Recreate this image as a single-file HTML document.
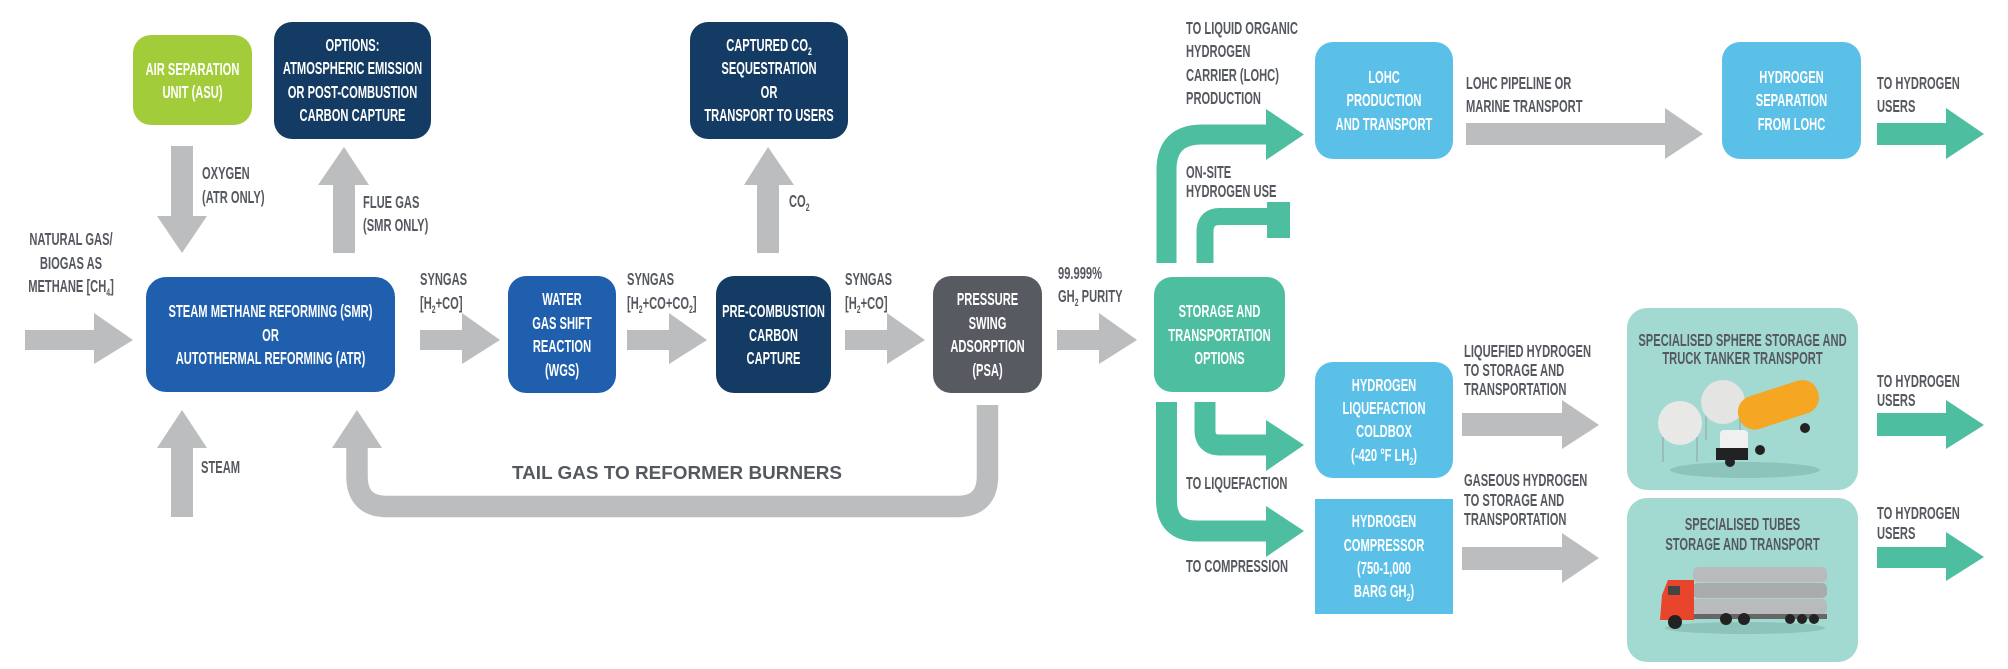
<!DOCTYPE html>
<html><head><meta charset="utf-8"><style>
html,body{margin:0;padding:0;background:#fff;}
svg{display:block;}
text{font-family:"Liberation Sans",sans-serif;font-weight:bold;font-size:18px;}
.w{fill:#fff;text-anchor:middle;}
.g{fill:#55595f;}
.gm{fill:#55595f;text-anchor:middle;}
</style></head><body>
<svg width="2008" height="669" viewBox="0 0 2008 669" xmlns="http://www.w3.org/2000/svg">
<g fill="#bbbdbf">
<polygon points="25,330 94,330 94,313 133,340 94,364 94,350 25,350"/>
<polygon points="420,330 462,330 462,313 500,340 462,364 462,350 420,350"/>
<polygon points="627,330 669,330 669,313 707,340 669,364 669,350 627,350"/>
<polygon points="845,330 887,330 887,313 925,340 887,364 887,350 845,350"/>
<polygon points="1057,330 1099,330 1099,313 1137,340 1099,364 1099,350 1057,350"/>
<polygon points="1466,123 1665,123 1665,108 1703,134 1665,159 1665,145 1466,145"/>
<polygon points="1462,413 1562,413 1562,400 1599,425 1562,449 1562,436 1462,436"/>
<polygon points="1462,547 1562,547 1562,533 1599,558 1562,583 1562,570 1462,570"/>
<polygon points="171,146 193,146 193,216 207,216 182,253 157,216 171,216"/>
<polygon points="333,253 355,253 355,185 369,185 344,147 318,185 333,185"/>
<polygon points="757,253 779,253 779,185 794,185 768,147 744,185 757,185"/>
<polygon points="171,517 193,517 193,448 207,448 182,410 157,448 171,448"/>
<path d="M987.5,405 V476 Q987.5,506.5 957,506.5 H387 Q357,506.5 357,476 V446" fill="none" stroke="#bbbdbf" stroke-width="21.5"/>
<polygon points="332,448 382,448 357,410"/>
</g>
<g fill="#4dbfa0">
<path d="M1166.5,263 V170 Q1166.5,134.5 1202,134.5 H1268" fill="none" stroke="#4dbfa0" stroke-width="20"/>
<polygon points="1266,109 1304,134.5 1266,160"/>
<path d="M1205,263 V232 Q1205,216.5 1220,216.5 H1270" fill="none" stroke="#4dbfa0" stroke-width="17"/>
<rect x="1267" y="202" width="23" height="36"/>
<path d="M1205,402 V430 Q1205,445 1220,445 H1268" fill="none" stroke="#4dbfa0" stroke-width="21"/>
<polygon points="1266,420 1304,445 1266,471"/>
<path d="M1166.5,402 V500 Q1166.5,531 1197,531 H1268" fill="none" stroke="#4dbfa0" stroke-width="21"/>
<polygon points="1266,506 1304,531 1266,557"/>
<polygon points="1877,123 1946,123 1946,108 1984,134 1946,159 1946,145 1877,145"/>
<polygon points="1877,413 1946,413 1946,400 1984,425 1946,449 1946,436 1877,436"/>
<polygon points="1877,547 1946,547 1946,532 1984,557 1946,581 1946,568 1877,568"/>
</g>
<rect x="133" y="35" width="119" height="90" rx="18" fill="#a3cc3b"/>
<rect x="274" y="22" width="157" height="117" rx="18" fill="#143b63"/>
<rect x="690" y="22" width="158" height="117" rx="18" fill="#143b63"/>
<rect x="146" y="277" width="249" height="115" rx="20" fill="#1f5fae"/>
<rect x="508" y="276" width="108" height="117" rx="18" fill="#1f5fae"/>
<rect x="716" y="276" width="115" height="117" rx="18" fill="#143b63"/>
<rect x="933" y="276" width="109" height="117" rx="18" fill="#575b61"/>
<rect x="1154" y="277" width="131" height="115" rx="18" fill="#4dbfa0"/>
<rect x="1315" y="42" width="138" height="117" rx="18" fill="#5bc0e8"/>
<rect x="1722" y="42" width="139" height="117" rx="18" fill="#5bc0e8"/>
<rect x="1315" y="362" width="138" height="116" rx="18" fill="#5bc0e8"/>
<rect x="1315" y="499" width="138" height="115" fill="#5bc0e8"/>
<rect x="1627" y="308" width="231" height="182" rx="20" fill="#a2d9d0"/>
<rect x="1627" y="498" width="231" height="164" rx="20" fill="#a2d9d0"/>

<g transform="translate(192.5,0) scale(.62,1)"><text class="w" x="0" y="75">AIR SEPARATION</text><text class="w" x="0" y="98">UNIT (ASU)</text></g>
<g transform="translate(352.5,0) scale(.62,1)"><text class="w" x="0" y="51">OPTIONS:</text><text class="w" x="0" y="74">ATMOSPHERIC EMISSION</text><text class="w" x="0" y="98">OR POST-COMBUSTION</text><text class="w" x="0" y="121">CARBON CAPTURE</text></g>
<g transform="translate(769,0) scale(.62,1)"><text class="w" x="0" y="51">CAPTURED CO<tspan font-size="11" dy="4">2</tspan></text><text class="w" x="0" y="74">SEQUESTRATION</text><text class="w" x="0" y="98">OR</text><text class="w" x="0" y="121">TRANSPORT TO USERS</text></g>
<g transform="translate(270.5,0) scale(.62,1)"><text class="w" x="0" y="317">STEAM METHANE REFORMING (SMR)</text><text class="w" x="0" y="341">OR</text><text class="w" x="0" y="364">AUTOTHERMAL REFORMING (ATR)</text></g>
<g transform="translate(562,0) scale(.62,1)"><text class="w" x="0" y="305">WATER</text><text class="w" x="0" y="329">GAS SHIFT</text><text class="w" x="0" y="352">REACTION</text><text class="w" x="0" y="376">(WGS)</text></g>
<g transform="translate(773.5,0) scale(.62,1)"><text class="w" x="0" y="317">PRE-COMBUSTION</text><text class="w" x="0" y="341">CARBON</text><text class="w" x="0" y="364">CAPTURE</text></g>
<g transform="translate(987.5,0) scale(.62,1)"><text class="w" x="0" y="305">PRESSURE</text><text class="w" x="0" y="329">SWING</text><text class="w" x="0" y="352">ADSORPTION</text><text class="w" x="0" y="376">(PSA)</text></g>
<g transform="translate(1219.5,0) scale(.62,1)"><text class="w" x="0" y="317">STORAGE AND</text><text class="w" x="0" y="341">TRANSPORTATION</text><text class="w" x="0" y="364">OPTIONS</text></g>
<g transform="translate(1384,0) scale(.62,1)"><text class="w" x="0" y="83">LOHC</text><text class="w" x="0" y="106">PRODUCTION</text><text class="w" x="0" y="130">AND TRANSPORT</text></g>
<g transform="translate(1791.5,0) scale(.62,1)"><text class="w" x="0" y="83">HYDROGEN</text><text class="w" x="0" y="106">SEPARATION</text><text class="w" x="0" y="130">FROM LOHC</text></g>
<g transform="translate(1384,0) scale(.62,1)"><text class="w" x="0" y="391">HYDROGEN</text><text class="w" x="0" y="414">LIQUEFACTION</text><text class="w" x="0" y="437">COLDBOX</text><text class="w" x="0" y="461">(-420 °F LH<tspan font-size="11" dy="4">2</tspan><tspan dy="-4">)</tspan></text></g>
<g transform="translate(1384,0) scale(.62,1)"><text class="w" x="0" y="527">HYDROGEN</text><text class="w" x="0" y="551">COMPRESSOR</text><text class="w" x="0" y="574">(750-1,000</text><text class="w" x="0" y="597">BARG GH<tspan font-size="11" dy="4">2</tspan><tspan dy="-4">)</tspan></text></g>

<g transform="translate(202,0) scale(.62,1)"><text class="g" x="0" y="179">OXYGEN</text><text class="g" x="0" y="203">(ATR ONLY)</text></g>
<g transform="translate(363,0) scale(.62,1)"><text class="g" x="0" y="208">FLUE GAS</text><text class="g" x="0" y="231">(SMR ONLY)</text></g>
<g transform="translate(71,0) scale(.62,1)"><text class="gm" x="0" y="245">NATURAL GAS/</text><text class="gm" x="0" y="269">BIOGAS AS</text><text class="gm" x="0" y="292">METHANE [CH<tspan font-size="11" dy="4">4</tspan><tspan dy="-4">]</tspan></text></g>
<g transform="translate(201,0) scale(.62,1)"><text class="g" x="0" y="473">STEAM</text></g>
<g transform="translate(420,0) scale(.62,1)"><text class="g" x="0" y="285">SYNGAS</text><text class="g" x="0" y="309">[H<tspan font-size="11" dy="4">2</tspan><tspan dy="-4">+CO]</tspan></text></g>
<g transform="translate(627,0) scale(.62,1)"><text class="g" x="0" y="285">SYNGAS</text><text class="g" x="0" y="309">[H<tspan font-size="11" dy="4">2</tspan><tspan dy="-4">+CO+CO</tspan><tspan font-size="11" dy="4">2</tspan><tspan dy="-4">]</tspan></text></g>
<g transform="translate(845,0) scale(.62,1)"><text class="g" x="0" y="285">SYNGAS</text><text class="g" x="0" y="309">[H<tspan font-size="11" dy="4">2</tspan><tspan dy="-4">+CO]</tspan></text></g>
<g transform="translate(789,0) scale(.62,1)"><text class="g" x="0" y="207">CO<tspan font-size="11" dy="4">2</tspan></text></g>
<g transform="translate(1058,0) scale(.62,1)"><text class="g" x="0" y="279">99.999%</text><text class="g" x="0" y="302">GH<tspan font-size="11" dy="4">2</tspan><tspan dy="-4"> PURITY</tspan></text></g>
<text x="512" y="479" fill="#55595f" font-size="35" textLength="330" lengthAdjust="spacingAndGlyphs">TAIL GAS TO REFORMER BURNERS</text>
<g transform="translate(1186,0) scale(.62,1)"><text class="g" x="0" y="34">TO LIQUID ORGANIC</text><text class="g" x="0" y="57">HYDROGEN</text><text class="g" x="0" y="81">CARRIER (LOHC)</text><text class="g" x="0" y="104">PRODUCTION</text></g>
<g transform="translate(1186,0) scale(.62,1)"><text class="g" x="0" y="178">ON-SITE</text><text class="g" x="0" y="197">HYDROGEN USE</text></g>
<g transform="translate(1186,0) scale(.62,1)"><text class="g" x="0" y="489">TO LIQUEFACTION</text><text class="g" x="0" y="572">TO COMPRESSION</text></g>
<g transform="translate(1466,0) scale(.62,1)"><text class="g" x="0" y="89">LOHC PIPELINE OR</text><text class="g" x="0" y="112">MARINE TRANSPORT</text></g>
<g transform="translate(1877,0) scale(.62,1)"><text class="g" x="0" y="89">TO HYDROGEN</text><text class="g" x="0" y="112">USERS</text></g>
<g transform="translate(1877,0) scale(.62,1)"><text class="g" x="0" y="387">TO HYDROGEN</text><text class="g" x="0" y="406">USERS</text></g>
<g transform="translate(1877,0) scale(.62,1)"><text class="g" x="0" y="519">TO HYDROGEN</text><text class="g" x="0" y="539">USERS</text></g>
<g transform="translate(1464,0) scale(.62,1)"><text class="g" x="0" y="357">LIQUEFIED HYDROGEN</text><text class="g" x="0" y="376">TO STORAGE AND</text><text class="g" x="0" y="395">TRANSPORTATION</text></g>
<g transform="translate(1464,0) scale(.62,1)"><text class="g" x="0" y="486">GASEOUS HYDROGEN</text><text class="g" x="0" y="506">TO STORAGE AND</text><text class="g" x="0" y="525">TRANSPORTATION</text></g>
<g transform="translate(1742.5,0) scale(.62,1)"><text class="gm" x="0" y="346">SPECIALISED SPHERE STORAGE AND</text><text class="gm" x="0" y="364">TRUCK TANKER TRANSPORT</text></g>
<g transform="translate(1742.5,0) scale(.62,1)"><text class="gm" x="0" y="530">SPECIALISED TUBES</text><text class="gm" x="0" y="550">STORAGE AND TRANSPORT</text></g>

<ellipse cx="1745" cy="470" rx="75" ry="8" fill="#8cc4bb"/>
<g stroke="#9aa" stroke-width="1.2">
<line x1="1663" y1="420" x2="1663" y2="462"/><line x1="1697" y1="420" x2="1697" y2="462"/>
<line x1="1706" y1="400" x2="1706" y2="440"/><line x1="1740" y1="400" x2="1740" y2="440"/>
</g>
<circle cx="1723" cy="402" r="22" fill="#e4e4e2"/>
<circle cx="1680" cy="423" r="22" fill="#e8e8e6"/>
<rect x="1737" y="388" width="83" height="34" rx="16" fill="#f5a623" transform="rotate(-18 1778 405)"/>
<rect x="1720" y="430" width="28" height="30" rx="4" fill="#f0f0f0"/>
<rect x="1716" y="448" width="32" height="12" fill="#222"/>
<circle cx="1730" cy="462" r="5" fill="#222"/><circle cx="1760" cy="450" r="5" fill="#222"/><circle cx="1805" cy="428" r="5" fill="#222"/>
<ellipse cx="1745" cy="628" rx="80" ry="6" fill="#8cc4bb"/>
<rect x="1693" y="567" width="134" height="15" rx="5" fill="#b8babc"/>
<rect x="1693" y="583" width="134" height="15" rx="5" fill="#a9abad"/>
<rect x="1693" y="599" width="134" height="15" rx="5" fill="#b8babc"/>
<rect x="1690" y="614" width="137" height="5" fill="#666"/>
<path d="M1662,595 L1668,580 L1694,580 L1694,620 L1660,620 Z" fill="#e8452c"/>
<rect x="1668" y="586" width="12" height="9" fill="#444"/>
<g fill="#222"><circle cx="1675" cy="622" r="7"/><circle cx="1726" cy="619" r="6"/><circle cx="1744" cy="619" r="6"/><circle cx="1790" cy="619" r="5"/><circle cx="1802" cy="619" r="5"/><circle cx="1814" cy="619" r="5"/></g>
</svg>
</body></html>
